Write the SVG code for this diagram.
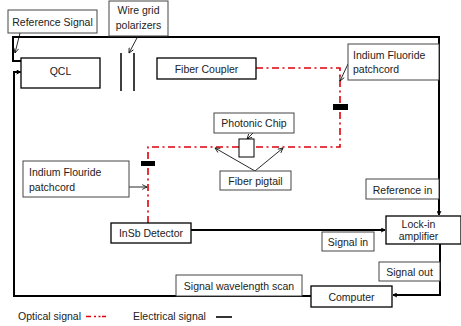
<svg xmlns="http://www.w3.org/2000/svg" width="461" height="326" viewBox="0 0 461 326">
<style>
text{font-family:"Liberation Sans",Arial,sans-serif;font-size:10.5px;fill:#222}
.node{fill:#fff;stroke:#000;stroke-width:1.3}
.lbl{fill:#fff;stroke:#444;stroke-width:1}
.elec{fill:none;stroke:#000;stroke-width:2}
.opt{fill:none;stroke:#e0000a;stroke-width:1.6;stroke-dasharray:7 3.5 2 3.5}
.ptr{fill:none;stroke:#111;stroke-width:0.9}
.mid{text-anchor:middle}
</style>
<defs>
<marker id="ah" viewBox="0 0 10 10" refX="9" refY="5" markerWidth="5" markerHeight="5" orient="auto" markerUnits="userSpaceOnUse">
<path d="M1 1 L9 5 L1 9" fill="none" stroke="#000" stroke-width="2"/>
</marker>
<marker id="sh" viewBox="0 0 10 10" refX="9" refY="5" markerWidth="6" markerHeight="6" orient="auto" markerUnits="userSpaceOnUse">
<path d="M1 1 L9 5 L1 9" fill="none" stroke="#111" stroke-width="1.4"/>
</marker>
</defs>
<g id="connectors">
<path class="elec" d="M21 61 H13 V37 H439 V215" marker-end="url(#ah)"/>
<path class="elec" d="M311 296 H14 V72 H20.5" marker-end="url(#ah)"/>
<path class="elec" d="M191 230 H385" marker-end="url(#ah)"/>
<path class="elec" d="M440 244 V295 H393" marker-end="url(#ah)"/>
<path class="opt" d="M256 68 H340 V147 H254"/>
<path class="opt" d="M239 147 H148 V223"/>
<path class="ptr" d="M20 33 L15 53" marker-end="url(#sh)"/>
<path class="ptr" d="M138 36 L129 53" marker-end="url(#sh)"/>
<path class="ptr" d="M348 64 L340 81" marker-end="url(#sh)"/>
<path class="ptr" d="M129 187 H147" marker-end="url(#sh)"/>
<path class="ptr" d="M253 133 L247 139" marker-end="url(#sh)"/>
<path class="ptr" d="M255 171 L215 148" marker-end="url(#sh)"/>
<path class="ptr" d="M255 171 L283 148" marker-end="url(#sh)"/>
</g>
<g id="polarizers">
<path d="M121 53 V91 M134 53 V91" stroke="#000" stroke-width="1.5"/>
</g>
<g id="connector-upper"><rect x="333" y="104" width="15" height="6" fill="#000"/></g>
<g id="connector-lower"><rect x="141" y="161" width="14" height="5" fill="#000"/></g>
<g id="chip"><rect x="239" y="139" width="15" height="18" fill="#fff" stroke="#000" stroke-width="1"/></g>
<g id="reference-signal-label"><rect class="lbl" x="8" y="10" width="89" height="23"/><text class="mid" x="52.5" y="26">Reference Signal</text></g>
<g id="polarizers-label"><rect class="lbl" x="109" y="1" width="59" height="35"/><text class="mid" x="138.5" y="14">Wire grid</text><text class="mid" x="138.5" y="29">polarizers</text></g>
<g id="qcl"><rect class="node" x="21" y="58" width="79" height="30"/><text class="mid" x="60.5" y="74.5">QCL</text></g>
<g id="fiber-coupler"><rect class="node" x="157" y="58" width="99" height="21"/><text class="mid" x="206.5" y="73">Fiber Coupler</text></g>
<g id="indium-fluoride-label"><rect class="lbl" x="348" y="44" width="91" height="36"/><text x="353" y="58.5">Indium Fluoride</text><text x="353" y="73">patchcord</text></g>
<g id="photonic-chip-label"><rect class="lbl" x="214" y="113" width="80" height="20"/><text class="mid" x="254" y="127">Photonic Chip</text></g>
<g id="fiber-pigtail-label"><rect class="lbl" x="220" y="171" width="71" height="19"/><text class="mid" x="255.5" y="184.5">Fiber pigtail</text></g>
<g id="indium-flouride-label"><rect class="lbl" x="23" y="161" width="106" height="36"/><text x="29" y="176">Indium Flouride</text><text x="29" y="190.5">patchcord</text></g>
<g id="insb-detector"><rect class="node" x="111" y="223" width="80" height="20"/><text class="mid" x="151" y="237">InSb Detector</text></g>
<g id="reference-in-label"><rect class="lbl" x="366" y="179" width="73" height="20"/><text class="mid" x="402.5" y="193.5">Reference in</text></g>
<g id="lock-in"><rect class="node" x="386" y="216" width="75" height="28"/><text class="mid" x="418.5" y="227.5">Lock-in</text><text class="mid" x="418.5" y="239.5">amplifier</text></g>
<g id="signal-in-label"><rect class="lbl" x="322" y="232" width="52" height="19"/><text class="mid" x="348" y="246">Signal in</text></g>
<g id="signal-out-label"><rect class="lbl" x="379" y="262" width="61" height="19"/><text class="mid" x="409.5" y="276">Signal out</text></g>
<g id="wavelength-scan-label"><rect class="lbl" x="176" y="275" width="126" height="21"/><text class="mid" x="239" y="290">Signal wavelength scan</text></g>
<g id="computer"><rect class="node" x="311" y="286" width="81" height="21"/><text class="mid" x="351.5" y="301">Computer</text></g>
<g id="legend">
<text x="18" y="320">Optical signal</text>
<path d="M86 316.5 H91 M94 316.5 H96 M98.5 316.5 H100.5 M102 316.5 H106" stroke="#e0000a" stroke-width="1.6"/>
<text x="133" y="320">Electrical signal</text>
<path d="M216 317 H232" stroke="#000" stroke-width="1.6"/>
</g>
</svg>
